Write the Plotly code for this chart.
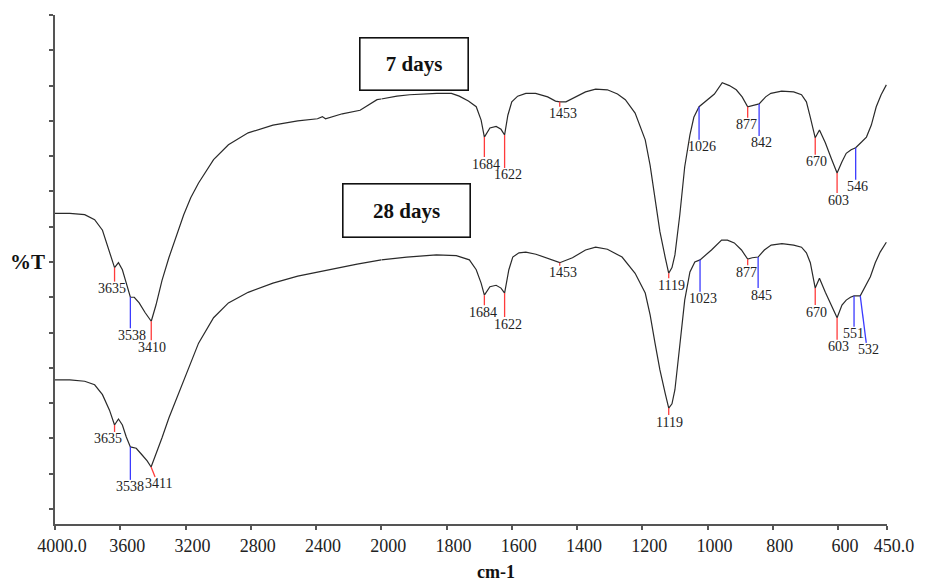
import numpy as np
import plotly.graph_objects as go

# ---------------- data ----------------
# 7 days spectrum: wavenumber (cm-1) and transmittance (arbitrary %T units)
wn_7 = [4000, 3909, 3818, 3757, 3709, 3678, 3654, 3635, 3611, 3587, 3563, 3538, 3514, 3484,
        3447, 3410, 3381, 3344, 3302, 3259, 3211, 3168, 3120, 3028, 2937, 2816, 2664, 2512,
        2391, 2361, 2342, 2239, 2130, 2026, 2000,
        1952, 1913, 1830, 1785, 1761, 1733, 1709, 1694, 1684, 1667, 1648, 1633, 1622, 1612,
        1600, 1582, 1557, 1527, 1490, 1466, 1453, 1434, 1404, 1374, 1343, 1307, 1276, 1252,
        1222, 1191, 1176, 1161, 1146, 1130, 1119, 1109, 1100, 1085, 1070, 1054, 1042, 1026,
        1000, 979, 955, 933, 912, 894, 877, 861, 842, 822, 806, 773, 736, 712, 697, 685, 670,
        657, 639, 621, 603, 588, 575, 560, 546, 528, 513, 498, 483, 468, 452]
t_7 = [41.9, 41.9, 41.7, 41.0, 39.5, 37.4, 35.6, 34.2, 34.9, 33.9, 32.0, 30.0, 30.0, 29.2,
       27.8, 26.6, 28.9, 32.4, 35.6, 38.5, 41.7, 44.1, 46.2, 49.5, 51.6, 53.3, 54.4, 55.0,
       55.3, 55.6, 55.3, 56.0, 56.5, 58.0, 58.1,
       58.5, 58.7, 58.9, 58.9, 58.5, 57.8, 57.0, 55.1, 52.7, 54.0, 54.2, 53.8, 53.0, 55.8,
       57.7, 58.5, 58.9, 58.9, 58.4, 57.8, 57.7, 57.7, 58.4, 59.1, 59.5, 59.4, 58.8, 58.0,
       56.1, 52.3, 48.7, 43.8, 39.3, 35.7, 33.4, 34.2, 36.0, 41.7, 48.5, 53.0, 55.5, 57.0,
       58.0, 58.8, 60.4, 60.0, 59.4, 58.4, 57.0, 57.2, 57.4, 58.4, 58.9, 59.2, 59.1, 58.7,
       57.7, 55.5, 52.6, 53.7, 51.9, 49.7, 47.6, 49.2, 50.4, 50.9, 51.2, 52.0, 52.7, 54.4,
       57.0, 58.7, 60.1]

# 28 days spectrum
wn_28 = [4000, 3909, 3818, 3757, 3709, 3666, 3635, 3611, 3587, 3563, 3538, 3502, 3466, 3435,
         3411, 3375, 3344, 3302, 3241, 3180, 3120, 3028, 2937, 2816, 2664, 2512, 2330, 2148,
         2000,
         1922, 1831, 1770, 1730, 1709, 1694, 1684, 1667, 1648, 1633, 1622, 1609, 1597, 1578,
         1557, 1526, 1496, 1453, 1414, 1374, 1343, 1307, 1262, 1222, 1191, 1176, 1161, 1146,
         1130, 1119, 1109, 1100, 1085, 1070, 1054, 1039, 1023, 988, 957, 939, 918, 896, 877,
         863, 845, 826, 805, 772, 736, 712, 697, 685, 670, 657, 639, 621, 603, 588, 575, 562,
         551, 532, 516, 501, 486, 471, 452]
t_28 = [18.3, 18.3, 18.1, 17.6, 16.2, 14.0, 11.9, 12.75, 11.9, 10.2, 8.8, 8.6, 7.65, 6.8,
        5.95, 8.1, 10.1, 12.9, 16.4, 20.0, 23.5, 27.1, 29.2, 30.7, 32.0, 33.0, 33.9, 34.7,
        35.3,
        35.7, 36.0, 35.9, 35.3, 33.9, 32.0, 30.3, 31.5, 31.7, 31.3, 30.6, 33.9, 35.7, 36.3,
        36.4, 36.1, 35.6, 34.9, 35.6, 36.7, 37.1, 36.8, 35.7, 33.4, 30.6, 27.5, 23.5, 19.7,
        16.4, 14.3, 14.9, 16.9, 23.2, 29.6, 33.6, 35.0, 35.3, 36.7, 38.1, 38.1, 37.7, 36.7,
        35.4, 35.6, 35.7, 36.7, 37.4, 37.6, 37.4, 37.1, 36.3, 34.9, 31.3, 32.7, 30.7, 28.8,
        27.1, 28.9, 29.6, 30.0, 30.2, 30.2, 31.5, 32.9, 34.9, 36.4, 37.8]

# labelled peaks (cm-1) and their marker kind (r = red, b = blue)
peaks_7 = [3635, 3538, 3410, 1684, 1622, 1453, 1119, 1026, 877, 842, 670, 603, 546]
kind_7 = ["r", "b", "r", "r", "r", "r", "r", "b", "r", "b", "r", "r", "b"]
peaks_28 = [3635, 3538, 3411, 1684, 1622, 1453, 1119, 1023, 877, 845, 670, 603, 551, 532]
kind_28 = ["r", "b", "r", "r", "r", "r", "r", "b", "r", "b", "r", "r", "b", "b"]

# axis ticks (piecewise scale: expanded x2 below 2000 cm-1)
BREAK = 2000
ticks_high = [4000, 3600, 3200, 2800, 2400]
text_high = ["4000.0", "3600", "3200", "2800", "2400"]
ticks_low = [2000, 1800, 1600, 1400, 1200, 1000, 800, 600, 450]
text_low = ["2000", "1800", "1600", "1400", "1200", "1000", "800", "600", "450.0"]
series_names = ["7 days", "28 days"]

# ---------------- styles ----------------
len_7 = [14, 31, 19, 20, 33, 5, 5, 33, 11, 32, 17, 20, 32]
dx_7 = [0] * 13
lab_dx_7 = [-3, 2, 1, 2, 3, 3, 3, 3, -1, 2, 1, 1, 2]
len_28 = [7, 33, 10, 10, 24, 3, 7, 32, 6, 31, 17, 22, 31, 47]
dx_28 = [0, 0, 4, 0, 0, 0, 0, 0, 0, 0, 0, 0, 0, 6]
lab_dx_28 = [-7, 0, 7, -1, 3, 3, 1, 3, -1, 3, 1, 1, -1, 8]

FONT = "Liberation Serif"
LINE_COL = "#2a2a2a"
AX_COL = "#555555"
COLORS = {"r": "#ff3b3b", "b": "#3b3bff"}
XMIN, XMAX = 4000, 450
frac = (XMIN - BREAK) / ((XMIN - BREAK) + 2 * (BREAK - XMAX))

fig = go.Figure()


def add_series(wn, t):
    wn = np.asarray(wn, float)
    t = np.asarray(t, float)
    hi = wn >= BREAK
    lo = wn <= BREAK
    fig.add_trace(go.Scatter(x=wn[hi], y=t[hi], xaxis="x", yaxis="y", mode="lines",
                             line=dict(color=LINE_COL, width=1.2), showlegend=False,
                             hoverinfo="skip"))
    fig.add_trace(go.Scatter(x=wn[lo], y=t[lo], xaxis="x2", yaxis="y", mode="lines",
                             line=dict(color=LINE_COL, width=1.2), showlegend=False,
                             hoverinfo="skip"))


def add_peaks(wn, t, peaks, kinds, lens, dxs, labdx):
    wn_a = np.asarray(wn, float)[::-1]
    t_a = np.asarray(t, float)[::-1]
    for p, k, L, dx, ldx in zip(peaks, kinds, lens, dxs, labdx):
        val = float(np.interp(p, wn_a, t_a))
        xr = "x" if p > BREAK else "x2"
        fig.add_shape(type="line", xref=xr, yref="y", xsizemode="pixel", ysizemode="pixel",
                      xanchor=p, yanchor=val, x0=0, x1=dx, y0=0, y1=-L,
                      line=dict(color=COLORS[k], width=1.3))
        fig.add_annotation(x=p, y=val, xref=xr, yref="y", text=str(p), showarrow=False,
                           xanchor="center", yanchor="middle", xshift=ldx, yshift=-(L + 7),
                           font=dict(family=FONT, size=14, color="#222"))


add_series(wn_7, t_7)
add_series(wn_28, t_28)
add_peaks(wn_7, t_7, peaks_7, kind_7, len_7, dx_7, lab_dx_7)
add_peaks(wn_28, t_28, peaks_28, kind_28, len_28, dx_28, lab_dx_28)

# series labels in boxes
for name, cx, cy, w, h in [(series_names[0], 0.431, 0.9028, 107, 51),
                           (series_names[1], 0.423, 0.6159, 126, 52)]:
    fig.add_annotation(x=cx, y=cy, xref="paper", yref="paper", text="<b>%s</b>" % name,
                       showarrow=False, width=w, height=h, borderpad=0, borderwidth=1.6,
                       xanchor="center", yanchor="middle",
                       bordercolor="#111", bgcolor="white", align="center", valign="middle",
                       font=dict(family=FONT, size=21, color="#111"))

fig.add_annotation(x=-0.0333, y=35.0, xref="paper", yref="y", text="<b>%T</b>",
                   xanchor="center", yanchor="middle",
                   showarrow=False, font=dict(family=FONT, size=21, color="#111"))
fig.add_annotation(x=0.53, y=-0.094, xref="paper", yref="paper", text="<b>cm-1</b>",
                   xanchor="center", yanchor="middle",
                   showarrow=False, font=dict(family=FONT, size=18, color="#111"))

xcommon = dict(showline=True, linecolor=AX_COL, linewidth=2, ticks="outside", ticklen=4,
               tickcolor=AX_COL, tickwidth=1.5, showgrid=False, zeroline=False,
               tickfont=dict(family=FONT, size=18, color="#222"), anchor="y",
               ticklabelshift=-7)
fig.update_layout(
    width=926, height=581,
    margin=dict(l=55, r=31, t=15, b=57),
    paper_bgcolor="white", plot_bgcolor="white",
    xaxis=dict(domain=[0, frac], range=[XMIN, BREAK], tickmode="array",
               tickvals=ticks_high, ticktext=text_high, **xcommon),
    xaxis2=dict(domain=[frac, 1], range=[BREAK, XMAX], tickmode="array",
                tickvals=ticks_low, ticktext=text_low, **xcommon),
    yaxis=dict(range=[-2.13, 70], tick0=0, dtick=5, showticklabels=False, ticks="outside",
               ticklen=4, tickcolor=AX_COL, tickwidth=1.5, showline=True, linecolor=AX_COL,
               linewidth=2, showgrid=False, zeroline=False, anchor="x"),
)

fig.write_html("out.html")
